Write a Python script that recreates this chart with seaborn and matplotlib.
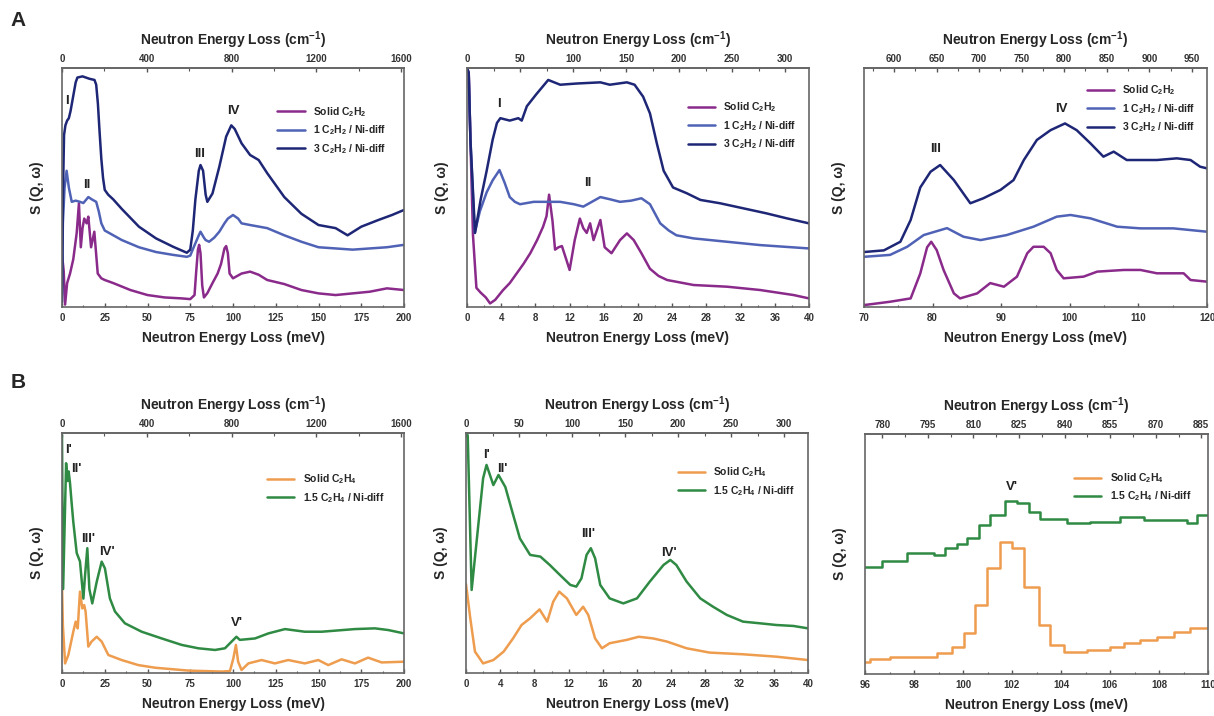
import matplotlib
matplotlib.use("Agg")
import matplotlib.pyplot as plt
from matplotlib.ticker import MultipleLocator
import seaborn as sns

# ===== STYLE =====
sns.set_theme(style="white")
plt.rcParams['font.family'] = ['Liberation Sans', 'DejaVu Sans']
plt.rcParams['font.weight'] = 'bold'
plt.rcParams['mathtext.fontset'] = 'custom'
plt.rcParams['mathtext.rm'] = 'Liberation Sans:bold'
plt.rcParams['mathtext.it'] = 'Liberation Sans:bold'
plt.rcParams['mathtext.default'] = 'regular'

C_SOLID2 = '#8a2a8a'
C_ONE = '#4f62b5'
C_THREE = '#1e2676'
C_SOLID4 = '#ee9c4e'
C_GREEN = '#2f8a43'

LBL_SOLID2 = 'Solid C$_2$H$_2$'
LBL_ONE = '1 C$_2$H$_2$ / Ni-diff'
LBL_THREE = '3 C$_2$H$_2$ / Ni-diff'
LBL_SOLID4 = 'Solid C$_2$H$_4$'
LBL_GREEN = '1.5 C$_2$H$_4$ / Ni-diff'

# ===== DATA (y in relative units) =====
# Panel A1 : 0-200 meV
a1_solid_x = [0, 1, 1.8, 3, 4.7, 6.6, 8.6, 9.9, 11, 12, 13, 14.4, 15.4, 17, 18.9, 20.9, 23, 25,
              30, 40, 50, 60, 70, 75, 77.5, 78.5, 79.5, 80.2, 81, 82, 83, 85, 88, 91, 93, 95, 96,
              97, 98, 100, 105, 110, 115, 120, 130, 140, 150, 160, 170, 180, 190, 200]
a1_solid_y = [0.22, 0.15, 0.01, 0.10, 0.14, 0.2, 0.31, 0.434, 0.25, 0.33, 0.37, 0.35, 0.378, 0.25,
              0.315, 0.14, 0.12, 0.113, 0.10, 0.071, 0.05, 0.04, 0.036, 0.033, 0.05, 0.15, 0.24,
              0.26, 0.225, 0.09, 0.04, 0.058, 0.1, 0.14, 0.18, 0.245, 0.255, 0.225, 0.14, 0.12,
              0.14, 0.148, 0.135, 0.113, 0.096, 0.071, 0.057, 0.05, 0.057, 0.064, 0.078, 0.071]
a1_one_x = [0, 0.5, 1.5, 2.7, 4, 5.7, 8, 10.5, 12.5, 15.4, 17.5, 20, 21.5, 23, 25, 30, 35, 45, 55,
            65, 73, 75, 77, 80, 81, 83, 84, 86, 89, 92, 95, 97, 100, 103, 105, 110, 120, 130, 140,
            150, 160, 170, 180, 190, 200]
a1_one_y = [0.05, 0.35, 0.5, 0.57, 0.5, 0.44, 0.445, 0.44, 0.435, 0.46, 0.45, 0.44, 0.4, 0.35, 0.32,
            0.30, 0.28, 0.25, 0.23, 0.218, 0.21, 0.215, 0.25, 0.30, 0.315, 0.29, 0.28, 0.273, 0.29,
            0.315, 0.35, 0.37, 0.385, 0.37, 0.35, 0.343, 0.33, 0.30, 0.273, 0.25, 0.245, 0.24,
            0.245, 0.25, 0.26]
a1_three_x = [0, 0.5, 1.2, 2, 3, 4, 5, 6, 7, 8, 9, 12, 16, 19, 20, 21, 22, 23, 24, 25, 27, 30, 35,
              45, 55, 65, 73, 75, 76.5, 78, 80, 81, 82.5, 84, 85, 88, 92, 96, 99, 101, 105, 110,
              115, 120, 130, 140, 150, 160, 167, 175, 185, 193, 200]
a1_three_y = [0.02, 0.45, 0.72, 0.76, 0.78, 0.79, 0.82, 0.86, 0.9, 0.94, 0.96, 0.965, 0.955, 0.95,
              0.93, 0.85, 0.73, 0.62, 0.54, 0.49, 0.47, 0.45, 0.41, 0.336, 0.287, 0.252, 0.227,
              0.24, 0.32, 0.45, 0.57, 0.594, 0.57, 0.47, 0.44, 0.475, 0.587, 0.713, 0.76, 0.745,
              0.685, 0.636, 0.615, 0.56, 0.46, 0.39, 0.343, 0.33, 0.30, 0.336, 0.364, 0.385, 0.406]

# Panel A2 : 0-40 meV
a2_solid_x = [0, 0.2, 0.4, 0.7, 1.1, 1.6, 2.2, 2.7, 3.3, 4.2, 5, 5.8, 6.6, 7.4, 8.2, 8.9, 9.3, 9.6,
              10.0, 10.3, 10.7, 11.1, 11.6, 12, 12.6, 13.2, 13.6, 14, 14.4, 14.8, 15.6, 16.1, 16.9,
              17.9, 18.7, 19.5, 20.4, 21.4, 22.4, 23.4, 26.5, 30.4, 34.3, 38.2, 40]
a2_solid_y = [1.0, 0.98, 0.7, 0.3, 0.08, 0.06, 0.04, 0.015, 0.03, 0.07, 0.1, 0.14, 0.18, 0.225,
              0.28, 0.336, 0.38, 0.47, 0.36, 0.24, 0.25, 0.255, 0.2, 0.155, 0.28, 0.37, 0.33, 0.31,
              0.35, 0.28, 0.364, 0.25, 0.225, 0.28, 0.308, 0.28, 0.225, 0.16, 0.13, 0.113, 0.092,
              0.085, 0.071, 0.05, 0.036]
a2_one_x = [0, 0.2, 0.4, 0.9, 1.5, 2.3, 3, 3.8, 4.4, 5.0, 5.6, 6.2, 7.8, 9.5, 10.9, 12.5, 13.6,
            14.6, 15.6, 16.8, 17.9, 19.2, 20.4, 21.4, 22.6, 23.6, 24.5, 26.5, 30.4, 34.3, 40]
a2_one_y = [1.0, 0.98, 0.7, 0.31, 0.4, 0.48, 0.53, 0.573, 0.52, 0.46, 0.44, 0.43, 0.44, 0.44, 0.44,
            0.43, 0.42, 0.44, 0.46, 0.45, 0.44, 0.445, 0.455, 0.43, 0.35, 0.32, 0.30, 0.287, 0.273,
            0.259, 0.245]
a2_three_x = [0, 0.2, 0.4, 0.94, 1.6, 2.3, 3, 3.5, 3.9, 5.0, 6.0, 6.4, 7, 8.1, 9.5, 10.9, 12.8,
              15.6, 16.7, 18.7, 19.6, 20.6, 21.4, 22.2, 23, 24.1, 25.7, 27.3, 29.6, 32.3, 35, 37.4, 40]
a2_three_y = [1.0, 0.98, 0.7, 0.31, 0.45, 0.57, 0.7, 0.77, 0.79, 0.78, 0.79, 0.78, 0.84, 0.89,
              0.95, 0.93, 0.935, 0.94, 0.93, 0.94, 0.93, 0.88, 0.81, 0.685, 0.57, 0.5, 0.476,
              0.448, 0.434, 0.413, 0.392, 0.371, 0.35]

# Panel A3 : 70-120 meV
a3_solid_x = [70, 73.8, 76.8, 78.2, 79.2, 79.8, 80.6, 81.6, 83.1, 84, 86.5, 88.4, 90.4, 92.3, 93.8,
              94.7, 96.2, 97.2, 98.1, 99.1, 102, 104, 107.9, 110.3, 112.7, 116.6, 117.6, 120]
a3_solid_y = [0.008, 0.022, 0.036, 0.14, 0.25, 0.273, 0.238, 0.155, 0.057, 0.036, 0.057, 0.1, 0.085,
              0.127, 0.225, 0.252, 0.252, 0.225, 0.155, 0.12, 0.127, 0.148, 0.155, 0.155, 0.141,
              0.141, 0.113, 0.106]
a3_one_x = [70, 73.8, 76.3, 78.7, 82.1, 84.5, 87, 90.8, 94.7, 98.1, 100.1, 103, 106.9, 110.3, 115.1, 120]
a3_one_y = [0.21, 0.218, 0.252, 0.301, 0.33, 0.294, 0.28, 0.301, 0.336, 0.378, 0.385, 0.371, 0.336,
            0.329, 0.329, 0.315]
a3_three_x = [70, 72.9, 75.3, 76.8, 78.2, 79.7, 81.1, 83.1, 85.5, 87.4, 89.9, 91.8, 93.3, 95.2, 97.2,
              99.3, 101, 103, 104.9, 106.4, 108.3, 110.3, 112.7, 115.6, 117.6, 119, 120]
a3_three_y = [0.23, 0.237, 0.273, 0.364, 0.50, 0.566, 0.594, 0.531, 0.434, 0.455, 0.49, 0.531, 0.615,
              0.699, 0.74, 0.768, 0.74, 0.685, 0.629, 0.65, 0.615, 0.615, 0.615, 0.622, 0.615,
              0.587, 0.58]

# Panel B1 : 0-200 meV
b1_solid_x = [0, 0.5, 1.8, 3.7, 6.6, 8, 9.2, 10.5, 11.9, 13, 13.8, 15.4, 17.3, 20.3, 23.2, 27.1,
              34.9, 44.6, 54.4, 73.9, 93.4, 98.2, 100.2, 101.7, 103, 105, 109, 116.7, 124.5, 132.3,
              142, 149.9, 155.7, 163.5, 171.3, 179, 186.9, 200]
b1_solid_y = [0.367, 0.2, 0.04, 0.075, 0.172, 0.214, 0.186, 0.339, 0.269, 0.283, 0.256, 0.11, 0.131,
              0.151, 0.131, 0.075, 0.054, 0.033, 0.022, 0.01, 0.006, 0.008, 0.061, 0.117, 0.047,
              0.0125, 0.04, 0.054, 0.04, 0.054, 0.04, 0.054, 0.033, 0.057, 0.04, 0.064, 0.044, 0.047]
b1_green_x = [0, 0.66, 2.4, 3.2, 3.9, 4.7, 5.5, 6.6, 8.6, 10.5, 12.5, 13.4, 14.8, 16, 17.7, 20.3,
              23.2, 25.1, 28, 31, 36.8, 46.6, 58.3, 70, 79.7, 89.5, 95.3, 99.2, 102, 104, 112.9,
              120.7, 130.4, 142, 151.9, 171.3, 183, 190.8, 200]
b1_green_y = [0.99, 0.35, 0.874, 0.80, 0.84, 0.79, 0.72, 0.63, 0.5, 0.465, 0.31, 0.4, 0.52, 0.35,
              0.29, 0.38, 0.464, 0.436, 0.311, 0.256, 0.207, 0.172, 0.144, 0.117, 0.103, 0.096,
              0.103, 0.131, 0.151, 0.138, 0.144, 0.165, 0.183, 0.172, 0.172, 0.183, 0.186, 0.179, 0.165]

# Panel B2 : 0-40 meV
b2_solid_x = [0, 0.5, 1.05, 2.0, 3.2, 4.4, 5.5, 6.5, 7.5, 8.6, 9.5, 10.2, 10.9, 11.8, 12.9, 13.7,
              14.3, 15.1, 15.9, 16.8, 18.8, 20.2, 21.9, 23.5, 25.8, 28.5, 32.4, 36.3, 40]
b2_solid_y = [0.37, 0.228, 0.089, 0.04, 0.054, 0.089, 0.144, 0.2, 0.228, 0.265, 0.214, 0.297, 0.339,
              0.311, 0.242, 0.276, 0.242, 0.144, 0.103, 0.124, 0.138, 0.151, 0.144, 0.131, 0.103,
              0.085, 0.078, 0.068, 0.054]
b2_green_x = [0, 0.2, 0.66, 1.44, 2.0, 2.4, 3.2, 3.8, 4.6, 5.3, 6.3, 7.5, 8.7, 9.8, 11, 12.2, 12.9,
              13.5, 14.1, 14.6, 15.1, 15.7, 16.8, 18.4, 20, 21.5, 23.1, 23.9, 24.6, 25.8, 27.4, 28.9,
              30.5, 32.4, 34.4, 36.3, 38.3, 40]
b2_green_y = [1.0, 0.99, 0.346, 0.617, 0.811, 0.867, 0.783, 0.825, 0.775, 0.686, 0.561, 0.492, 0.485,
              0.45, 0.408, 0.367, 0.36, 0.394, 0.492, 0.52, 0.478, 0.367, 0.311, 0.29, 0.311, 0.381,
              0.45, 0.471, 0.45, 0.381, 0.311, 0.276, 0.242, 0.214, 0.207, 0.2, 0.196, 0.186]

# Panel B3 : 96-110 meV (binned, step edges)
b3_solid_x = [96.0, 96.22, 97.03, 98.94, 99.55, 100.03, 100.5, 100.98, 101.52, 102.0, 102.48, 103.09,
              103.56, 104.11, 105.06, 106.01, 106.56, 107.24, 107.92, 108.6, 109.28, 110.0]
b3_solid_y = [0.051, 0.0625, 0.072, 0.086, 0.114, 0.169, 0.2875, 0.44, 0.551, 0.524, 0.364, 0.204,
              0.121, 0.093, 0.1, 0.114, 0.128, 0.142, 0.156, 0.174, 0.19, 0.19]
b3_green_x = [96.0, 96.69, 97.71, 98.8, 99.28, 99.75, 100.16, 100.64, 101.12, 101.73, 102.2, 102.68,
              103.16, 104.24, 105.2, 106.42, 107.37, 109.14, 109.55, 110.0]
b3_green_y = [0.447, 0.471, 0.503, 0.496, 0.524, 0.54, 0.565, 0.62, 0.662, 0.72, 0.711, 0.676, 0.646,
              0.628, 0.635, 0.656, 0.642, 0.628, 0.662, 0.662]

MEV2CM = 8.0655


def mev2cm(x):
    return x * MEV2CM


def cm2mev(x):
    return x / MEV2CM


def style_panel(ax, xlim, xmaj, xmin, cmin, cticks):
    ax.set_xlim(*xlim)
    ax.set_ylim(0, 1.0)
    ax.set_yticks([])
    ax.xaxis.set_major_locator(MultipleLocator(xmaj))
    ax.xaxis.set_minor_locator(MultipleLocator(xmin))
    ax.tick_params(axis='x', which='both', direction='in', bottom=True, labelsize=7,
                   labelcolor='#333333', color='#555555', pad=4)
    ax.tick_params(axis='x', which='major', length=3, width=1)
    ax.tick_params(axis='x', which='minor', length=1.8, width=0.8)
    for sp in ax.spines.values():
        sp.set_color('#666666')
        sp.set_linewidth(1.2)
    ax.set_xlabel('Neutron Energy Loss (meV)', fontsize=10, fontweight='bold', labelpad=6)
    ax.set_ylabel('S (Q, ω)', fontsize=10, fontweight='bold', labelpad=13)
    sec = ax.secondary_xaxis('top', functions=(mev2cm, cm2mev))
    sec.set_xticks(cticks)
    sec.xaxis.set_minor_locator(MultipleLocator(cmin))
    sec.tick_params(axis='x', which='both', direction='in', labelsize=7,
                    labelcolor='#333333', color='#555555', pad=3)
    sec.tick_params(axis='x', which='major', length=3, width=1)
    sec.tick_params(axis='x', which='minor', length=1.8, width=0.8)
    sec.spines['top'].set_color('#666666')
    sec.set_xlabel('Neutron Energy Loss (cm$^{-1}$)', fontsize=10, fontweight='bold', labelpad=6)


def add_legend(ax, anchor):
    ax.legend(loc='upper left', bbox_to_anchor=anchor, frameon=False, fontsize=7.5,
              handlelength=2.6, handletextpad=0.8, labelspacing=0.45, borderpad=0,
              borderaxespad=0)


def draw(ax, x, y, color, label, **kw):
    sns.lineplot(x=x, y=y, color=color, label=label, ax=ax, linewidth=1.8, sort=False, **kw)


fig = plt.figure(figsize=(12.14, 7.16), dpi=100)
W, H = 1214, 716


def add_axes(left, right, top, bottom):
    return fig.add_axes([left / W, 1 - bottom / H, (right - left) / W, (bottom - top) / H])


axA1 = add_axes(62, 404, 68, 307)
axA2 = add_axes(467, 809, 68, 307)
axA3 = add_axes(864, 1207, 68, 307)
axB1 = add_axes(62, 404, 433, 673)
axB2 = add_axes(466, 808, 433, 673)
axB3 = add_axes(865, 1208, 434, 674)

lab_kw = dict(fontsize=9.5, fontweight='bold', ha='center', va='center', color='#222222')

# ----- A1 -----
draw(axA1, a1_solid_x, a1_solid_y, C_SOLID2, LBL_SOLID2)
draw(axA1, a1_one_x, a1_one_y, C_ONE, LBL_ONE)
draw(axA1, a1_three_x, a1_three_y, C_THREE, LBL_THREE)
style_panel(axA1, (0, 200), 25, 12.5, 200, [0, 400, 800, 1200, 1600])
add_legend(axA1, (0.63, 0.845))
axA1.text(2.7, 0.86, 'I', **lab_kw)
axA1.text(14.4, 0.51, 'II', **lab_kw)
axA1.text(80.5, 0.64, 'III', **lab_kw)
axA1.text(100, 0.82, 'IV', **lab_kw)

# ----- A2 -----
draw(axA2, a2_solid_x, a2_solid_y, C_SOLID2, LBL_SOLID2)
draw(axA2, a2_one_x, a2_one_y, C_ONE, LBL_ONE)
draw(axA2, a2_three_x, a2_three_y, C_THREE, LBL_THREE)
style_panel(axA2, (0, 40), 4, 2, 25, [0, 50, 100, 150, 200, 250, 300])
add_legend(axA2, (0.646, 0.865))
axA2.text(3.7, 0.85, 'I', **lab_kw)
axA2.text(14.1, 0.52, 'II', **lab_kw)

# ----- A3 -----
draw(axA3, a3_solid_x, a3_solid_y, C_SOLID2, LBL_SOLID2)
draw(axA3, a3_one_x, a3_one_y, C_ONE, LBL_ONE)
draw(axA3, a3_three_x, a3_three_y, C_THREE, LBL_THREE)
style_panel(axA3, (70, 120), 10, 5, 25, [600, 650, 700, 750, 800, 850, 900, 950])
add_legend(axA3, (0.65, 0.935))
axA3.text(80.5, 0.66, 'III', **lab_kw)
axA3.text(98.7, 0.83, 'IV', **lab_kw)

# ----- B1 -----
draw(axB1, b1_solid_x, b1_solid_y, C_SOLID4, LBL_SOLID4)
draw(axB1, b1_green_x, b1_green_y, C_GREEN, LBL_GREEN)
style_panel(axB1, (0, 200), 25, 12.5, 200, [0, 400, 800, 1200, 1600])
add_legend(axB1, (0.60, 0.835))
axB1.text(3.7, 0.93, "I'", **lab_kw)
axB1.text(8.6, 0.85, "II'", **lab_kw)
axB1.text(15.4, 0.56, "III'", **lab_kw)
axB1.text(26, 0.505, "IV'", **lab_kw)
axB1.text(102, 0.207, "V'", **lab_kw)

# ----- B2 -----
draw(axB2, b2_solid_x, b2_solid_y, C_SOLID4, LBL_SOLID4)
draw(axB2, b2_green_x, b2_green_y, C_GREEN, LBL_GREEN)
style_panel(axB2, (0, 40), 4, 2, 25, [0, 50, 100, 150, 200, 250, 300])
add_legend(axB2, (0.62, 0.865))
axB2.text(2.4, 0.91, "I'", **lab_kw)
axB2.text(4.2, 0.85, "II'", **lab_kw)
axB2.text(14.3, 0.58, "III'", **lab_kw)
axB2.text(23.7, 0.50, "IV'", **lab_kw)

# ----- B3 -----
draw(axB3, b3_solid_x, b3_solid_y, C_SOLID4, LBL_SOLID4, drawstyle='steps-post')
draw(axB3, b3_green_x, b3_green_y, C_GREEN, LBL_GREEN, drawstyle='steps-post')
style_panel(axB3, (96, 110), 2, 1, 7.5, [780, 795, 810, 825, 840, 855, 870, 885])
add_legend(axB3, (0.61, 0.845))
axB3.text(102.0, 0.78, "V'", **lab_kw)

fig.text(18 / W, 1 - 20 / H, 'A', fontsize=15, fontweight='bold', ha='center', va='center')
fig.text(18 / W, 1 - 383 / H, 'B', fontsize=15, fontweight='bold', ha='center', va='center')

fig.savefig('out.png', dpi=100)
print("[INFO] saved out.png")
